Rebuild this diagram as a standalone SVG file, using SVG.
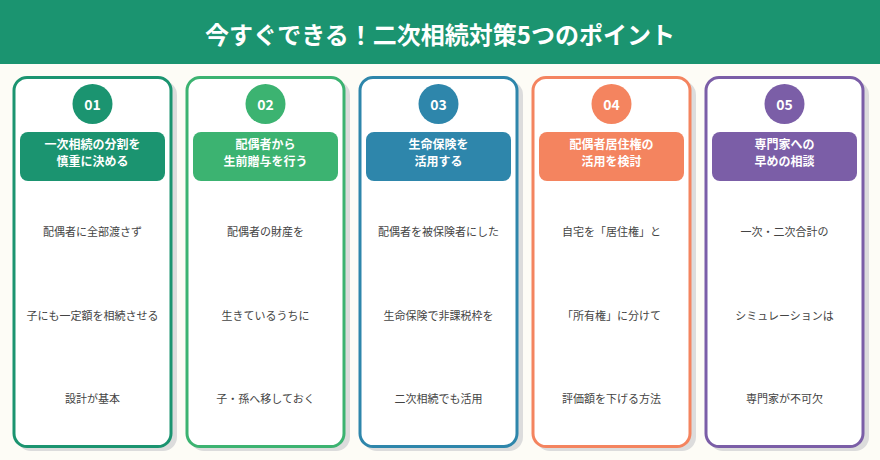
<svg xmlns="http://www.w3.org/2000/svg" width="880" height="460" viewBox="0 0 880 460">
<style>
text{font-family:"Noto Sans CJK JP","Noto Sans",sans-serif;text-anchor:middle;dominant-baseline:central}
.hdr{font-size:24px;font-weight:700;fill:#fff}
.num{font-size:14px;font-weight:700;fill:#fff}
.ttl{font-size:12px;font-weight:700;fill:#fff}
.body{font-size:11px;fill:#444}
.shadow{fill:#dcdcdc}
.card{fill:#fff;stroke-width:3}
</style>
<rect x="0" y="0" width="880" height="460" fill="#fdfcf6"/>
<rect x="0" y="0" width="880" height="64" fill="#1b9470"/>
<text class="hdr" x="440" y="33">今すぐできる！二次相続対策5つのポイント</text>
<g id="connectors"/>
<g id="card1">
<rect class="shadow" x="17" y="81" width="160" height="370" rx="14"/>
<rect class="card" x="14" y="77.5" width="157" height="369" rx="13" stroke="#1b9470"/>
<circle cx="92.5" cy="104" r="20" fill="#1b9470"/>
<text class="num" x="92.5" y="104">01</text>
<rect x="20" y="132" width="145" height="49" rx="8" fill="#1b9470"/>
<text class="ttl" x="92.5" y="143">一次相続の分割を</text>
<text class="ttl" x="92.5" y="160">慎重に決める</text>
<text class="body" x="92.5" y="231">配偶者に全部渡さず</text>
<text class="body" x="92.5" y="315">子にも一定額を相続させる</text>
<text class="body" x="92.5" y="398">設計が基本</text>
</g>
<g id="card2">
<rect class="shadow" x="190" y="81" width="160" height="370" rx="14"/>
<rect class="card" x="187" y="77.5" width="157" height="369" rx="13" stroke="#3cb371"/>
<circle cx="265.5" cy="104" r="20" fill="#3cb371"/>
<text class="num" x="265.5" y="104">02</text>
<rect x="193" y="132" width="145" height="49" rx="8" fill="#3cb371"/>
<text class="ttl" x="265.5" y="143">配偶者から</text>
<text class="ttl" x="265.5" y="160">生前贈与を行う</text>
<text class="body" x="265.5" y="231">配偶者の財産を</text>
<text class="body" x="265.5" y="315">生きているうちに</text>
<text class="body" x="265.5" y="398">子・孫へ移しておく</text>
</g>
<g id="card3">
<rect class="shadow" x="363" y="81" width="160" height="370" rx="14"/>
<rect class="card" x="360" y="77.5" width="157" height="369" rx="13" stroke="#2e86ab"/>
<circle cx="438.5" cy="104" r="20" fill="#2e86ab"/>
<text class="num" x="438.5" y="104">03</text>
<rect x="366" y="132" width="145" height="49" rx="8" fill="#2e86ab"/>
<text class="ttl" x="438.5" y="143">生命保険を</text>
<text class="ttl" x="438.5" y="160">活用する</text>
<text class="body" x="438.5" y="231">配偶者を被保険者にした</text>
<text class="body" x="438.5" y="315">生命保険で非課税枠を</text>
<text class="body" x="438.5" y="398">二次相続でも活用</text>
</g>
<g id="card4">
<rect class="shadow" x="536" y="81" width="160" height="370" rx="14"/>
<rect class="card" x="533" y="77.5" width="157" height="369" rx="13" stroke="#f4845f"/>
<circle cx="611.5" cy="104" r="20" fill="#f4845f"/>
<text class="num" x="611.5" y="104">04</text>
<rect x="539" y="132" width="145" height="49" rx="8" fill="#f4845f"/>
<text class="ttl" x="611.5" y="143">配偶者居住権の</text>
<text class="ttl" x="611.5" y="160">活用を検討</text>
<text class="body" x="611.5" y="231">自宅を「居住権」と</text>
<text class="body" x="611.5" y="315">「所有権」に分けて</text>
<text class="body" x="611.5" y="398">評価額を下げる方法</text>
</g>
<g id="card5">
<rect class="shadow" x="709" y="81" width="160" height="370" rx="14"/>
<rect class="card" x="706" y="77.5" width="157" height="369" rx="13" stroke="#7b5ea7"/>
<circle cx="784.5" cy="104" r="20" fill="#7b5ea7"/>
<text class="num" x="784.5" y="104">05</text>
<rect x="712" y="132" width="145" height="49" rx="8" fill="#7b5ea7"/>
<text class="ttl" x="784.5" y="143">専門家への</text>
<text class="ttl" x="784.5" y="160">早めの相談</text>
<text class="body" x="784.5" y="231">一次・二次合計の</text>
<text class="body" x="784.5" y="315">シミュレーションは</text>
<text class="body" x="784.5" y="398">専門家が不可欠</text>
</g>
</svg>
